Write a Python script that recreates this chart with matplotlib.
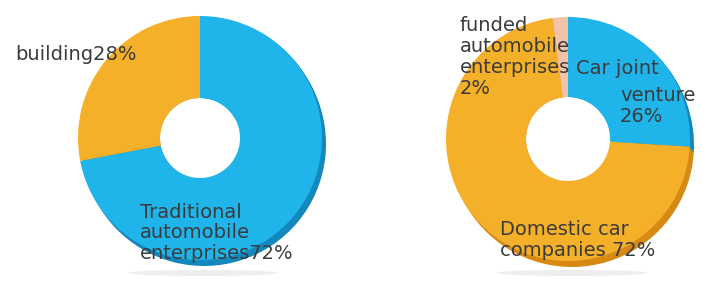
import matplotlib.pyplot as plt
from matplotlib.patches import Circle, Ellipse

# left donut: share of enterprises building cars
left_labels = ['Traditional\nautomobile\nenterprises72%', 'building28%']
left_values = [72, 28]

# right donut: ownership of car companies
right_labels = ['Car joint venture 26%', 'Domestic car\ncompanies 72%',
                'funded\nautomobile\nenterprises\n2%']
right_values = [26, 72, 2]

BLUE, BLUE_SIDE = '#1fb4ea', '#1388bd'
ORANGE, ORANGE_SIDE = '#f5b02a', '#d68a14'
PINK, PINK_SIDE = '#f2c3ab', '#d99c85'
TEXT = '#3b3b3b'

W, H = 715, 281
fig = plt.figure(figsize=(W / 100, H / 100), dpi=100)
ax = fig.add_axes([0, 0, 1, 1])


def donut(center, radius, hole, values, tops, sides, explode):
    width = radius - hole
    # darker copy shifted down-right gives the thick 3D rim
    for dx, dy in [(4, -6), (3, -4), (2, -2)]:
        ax.pie(values, radius=radius, center=(center[0] + dx, center[1] + dy),
               colors=sides, startangle=90, counterclock=False, explode=explode,
               wedgeprops=dict(width=width, linewidth=0))
    ax.add_patch(Circle(center, hole, color='white', lw=0, zorder=2))
    ax.pie(values, radius=radius, center=center, colors=tops, startangle=90,
           counterclock=False, explode=explode,
           wedgeprops=dict(width=width, linewidth=0, zorder=3))


# faint floor shadows
for cx in (203, 572):
    ax.add_patch(Ellipse((cx, 8), 150, 6, color='#eeeeee', lw=0))

donut((200, 143), 122, 40, left_values, [BLUE, ORANGE], [BLUE_SIDE, ORANGE_SIDE],
      [0.0, 0.025])
donut((568, 142), 122, 42, right_values, [BLUE, ORANGE, PINK],
      [BLUE_SIDE, ORANGE_SIDE, PINK_SIDE], [0.03, 0.0, 0.03])

font = dict(family='DejaVu Sans', fontsize=14, color=TEXT, linespacing=1.12,
            zorder=5)

ax.text(15, H - 55, left_labels[1], ha='left', va='center', **font)
ax.text(140, H - 233, left_labels[0], ha='left', va='center', **font)

ax.text(460, H - 57, right_labels[2], ha='left', va='center', **font)
ax.text(576, H - 68, 'Car joint', ha='left', va='center', **font)
ax.text(620, H - 106, 'venture\n26%', ha='left', va='center', **font)
ax.text(500, H - 240, right_labels[1], ha='left', va='center', **font)

ax.set_xlim(0, W)
ax.set_ylim(0, H)
ax.set_aspect('auto')
ax.axis('off')

fig.savefig('out.png', dpi=100, facecolor='white')
